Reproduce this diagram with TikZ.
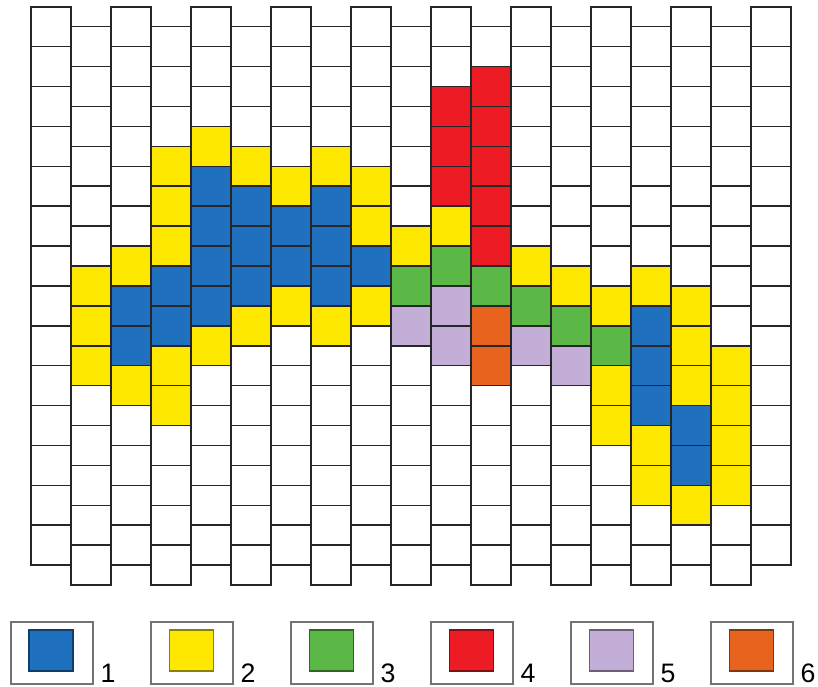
\documentclass[tikz,border=0pt]{standalone}
\usepackage{fontspec}
\setmainfont{Liberation Sans}
\definecolor{bblue}{RGB}{31,112,190}
\definecolor{byel}{RGB}{255,232,0}
\definecolor{bgrn}{RGB}{92,184,70}
\definecolor{bred}{RGB}{237,28,36}
\definecolor{blav}{RGB}{194,174,214}
\definecolor{borg}{RGB}{232,100,30}
\tikzset{
  brick/.style={draw=black!85,line width=1.1pt},
  legbox/.style={draw=black!55,line width=1.1pt},
  legfill/.style={draw=#1!55!black,fill=#1,line width=1pt}
}
\begin{document}
\begin{tikzpicture}[x=1cm,y=-0.997cm]
  \useasboundingbox (-0.77,-0.17) rectangle (19.68,17.05);
  % coloured bricks: column/row/colour
  \foreach \c/\r/\f in {1/6/byel,1/7/byel,1/8/byel,
      2/6/byel,2/7/bblue,2/8/bblue,2/9/byel,
      3/3/byel,3/4/byel,3/5/byel,3/6/bblue,3/7/bblue,3/8/byel,3/9/byel,
      4/3/byel,4/4/bblue,4/5/bblue,4/6/bblue,4/7/bblue,4/8/byel,
      5/3/byel,5/4/bblue,5/5/bblue,5/6/bblue,5/7/byel,
      6/4/byel,6/5/bblue,6/6/bblue,6/7/byel,
      7/3/byel,7/4/bblue,7/5/bblue,7/6/bblue,7/7/byel,
      8/4/byel,8/5/byel,8/6/bblue,8/7/byel,
      9/5/byel,9/6/bgrn,9/7/blav,
      10/2/bred,10/3/bred,10/4/bred,10/5/byel,10/6/bgrn,10/7/blav,10/8/blav,
      11/1/bred,11/2/bred,11/3/bred,11/4/bred,11/5/bred,11/6/bgrn,11/7/borg,11/8/borg,
      12/6/byel,12/7/bgrn,12/8/blav,
      13/6/byel,13/7/bgrn,13/8/blav,
      14/7/byel,14/8/bgrn,14/9/byel,14/10/byel,
      15/6/byel,15/7/bblue,15/8/bblue,15/9/bblue,15/10/byel,15/11/byel,
      16/7/byel,16/8/byel,16/9/byel,16/10/bblue,16/11/bblue,16/12/byel,
      17/8/byel,17/9/byel,17/10/byel,17/11/byel}
    \fill[\f] (\c,{\r+0.5*mod(\c,2)}) rectangle ++(1,1);
  % brick wall, odd columns half a brick lower
  \foreach \c [evaluate=\c as \s using {0.5*mod(\c,2)}] in {0,...,18}
    \foreach \r in {0,...,13}
      \draw[brick] (\c,\r+\s) rectangle ++(1,1);
  % legend
  \foreach \f [count=\i] in {bblue,byel,bgrn,bred,blav,borg} {
    \draw[legbox] ({3.5*\i-4},15.43) rectangle ++(2.05,1.55);
    \draw[legfill=\f] ({3.5*\i-3.54},15.63) rectangle ++(1.1,1.03);
    \node[anchor=base west,inner sep=0pt,font=\fontsize{19}{23}\selectfont]
      (lab\i) at ({3.5*\i-1.76},16.95) {\i};
  }
\end{tikzpicture}
\end{document}
